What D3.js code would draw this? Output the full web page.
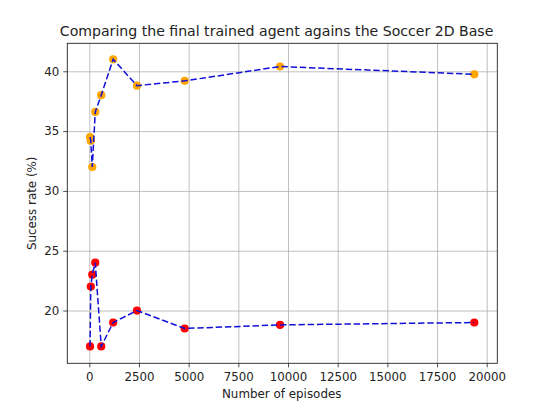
<!DOCTYPE html>
<html>
<head>
<meta charset="utf-8">
<script src="https://cdn.jsdelivr.net/npm/d3@7"></script>
<style>
  body { margin: 0; background: #fff; }
  text { font-family: "DejaVu Sans", sans-serif; fill: #222; }
</style>
</head>
<body>
<div id="chart"></div>
<script>
// data
var episodes = [37.5, 75, 150, 300, 600, 1200, 2400, 4800, 9600, 19375];
var selfPlay = [34.5, 34.2, 32.0, 36.6, 38.0, 41.0, 38.8, 39.2, 40.4, 39.75];
var vsBase   = [17.0, 22.0, 23.0, 24.0, 17.0, 19.0, 20.0, 18.5, 18.8, 19.0];
var xTicks = [0, 2500, 5000, 7500, 10000, 12500, 15000, 17500, 20000];
var yTicks = [20, 25, 30, 35, 40];

var svgWidth = 533;
var svgHeight = 420;

var plot = { left: 67.3, right: 497.3, top: 43.3, bottom: 363.3 };

var svg = d3.select("#chart")
    .append("svg")
    .attr("width", svgWidth)
    .attr("height", svgHeight);

var x = d3.scaleLinear()
    .domain([-1107, 20533])
    .range([plot.left, plot.right]);

var y = d3.scaleLinear()
    .domain([15.59, 42.34])
    .range([plot.bottom, plot.top]);

// grid
svg.append("g")
    .attr("transform", `translate(0,${plot.bottom})`)
    .call(d3.axisBottom(x).tickValues(xTicks).tickSize(-(plot.bottom - plot.top)).tickFormat(""))
    .call(g => g.select(".domain").remove())
    .selectAll("line").attr("stroke", "#b0b0b0").attr("stroke-width", 0.8);

svg.append("g")
    .attr("transform", `translate(${plot.left},0)`)
    .call(d3.axisLeft(y).tickValues(yTicks).tickSize(-(plot.right - plot.left)).tickFormat(""))
    .call(g => g.select(".domain").remove())
    .selectAll("line").attr("stroke", "#b0b0b0").attr("stroke-width", 0.8);

// axes
var xAxis = svg.append("g")
    .attr("transform", `translate(0,${plot.bottom})`)
    .call(d3.axisBottom(x).tickValues(xTicks).tickSize(4).tickPadding(5).tickFormat(d3.format("d")));
xAxis.select(".domain").remove();
xAxis.selectAll("text").style("font-size", "11.8px").attr("fill", "#222");
xAxis.selectAll("line").attr("stroke", "#222").attr("stroke-width", 0.8);

var yAxis = svg.append("g")
    .attr("transform", `translate(${plot.left},0)`)
    .call(d3.axisLeft(y).tickValues(yTicks).tickSize(4).tickPadding(4));
yAxis.select(".domain").remove();
yAxis.selectAll("text").style("font-size", "11.8px").attr("fill", "#222");
yAxis.selectAll("line").attr("stroke", "#222").attr("stroke-width", 0.8);

svg.append("rect")
    .attr("x", plot.left)
    .attr("y", plot.top)
    .attr("width", plot.right - plot.left)
    .attr("height", plot.bottom - plot.top)
    .attr("fill", "none")
    .attr("stroke", "#222")
    .attr("stroke-width", 0.9);

// markers
function dots(values, color) {
    svg.append("g").selectAll("circle")
        .data(values)
        .enter()
        .append("circle")
        .attr("cx", (d, i) => x(episodes[i]))
        .attr("cy", d => y(d))
        .attr("r", 4.1)
        .attr("fill", color);
}
dots(selfPlay, "orange");
dots(vsBase, "red");

// dashed lines on top
var line = d3.line()
    .x((d, i) => x(episodes[i]))
    .y(d => y(d));

[selfPlay, vsBase].forEach(function(values) {
    svg.append("path")
        .datum(values)
        .attr("d", line)
        .attr("fill", "none")
        .attr("stroke", "#1010d8")
        .attr("stroke-width", 1.5)
        .attr("stroke-dasharray", "6.4,2.8");
});

// labels
svg.append("text")
    .attr("x", 276.6)
    .attr("y", 36)
    .attr("text-anchor", "middle")
    .style("font-size", "14.1px")
    .text("Comparing the final trained agent agains the Soccer 2D Base");

svg.append("text")
    .attr("x", 281.7)
    .attr("y", 397.5)
    .attr("text-anchor", "middle")
    .style("font-size", "11.9px")
    .text("Number of episodes");

svg.append("text")
    .attr("transform", "rotate(-90)")
    .attr("x", -(plot.top + plot.bottom) / 2)
    .attr("y", 36)
    .attr("text-anchor", "middle")
    .style("font-size", "11.9px")
    .text("Sucess rate (%)");
</script>
</body>
</html>
